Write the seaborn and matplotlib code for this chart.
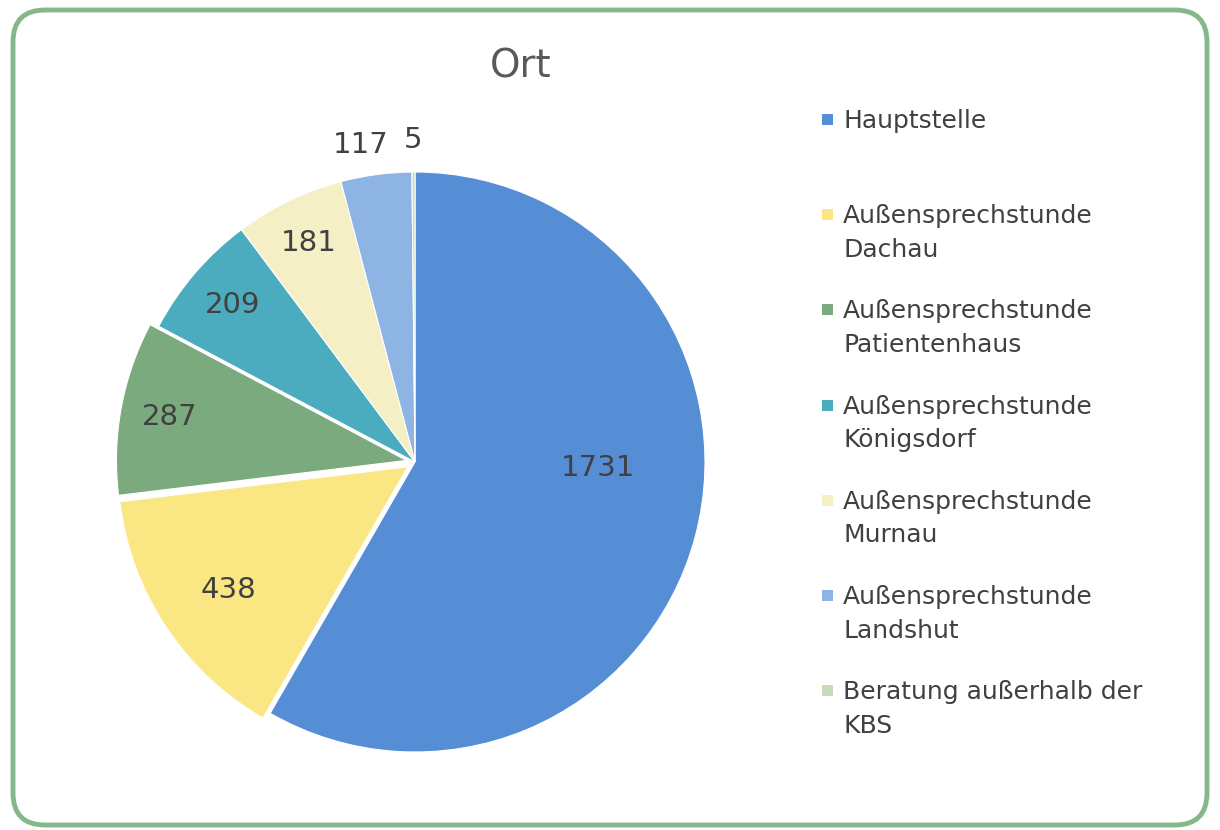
import numpy as np
import matplotlib
matplotlib.use("Agg")
import matplotlib.pyplot as plt
from matplotlib.patches import FancyBboxPatch, Rectangle
import seaborn as sns

sns.set_theme(style="white")
plt.rcParams['font.family'] = ['DejaVu Sans']

title = "Ort"
categories = ["Hauptstelle", "Außensprechstunde\nDachau", "Außensprechstunde\nPatientenhaus",
              "Außensprechstunde\nKönigsdorf", "Außensprechstunde\nMurnau",
              "Außensprechstunde\nLandshut", "Beratung außerhalb der\nKBS"]
values = [1731, 438, 287, 209, 181, 117, 5]
colors = ["#558ED5", "#FAE784", "#7BAA7F", "#4BACC0", "#F5EFC6", "#8EB4E3", "#C4DDB8"]
explode = [0, 0.03, 0.03, 0, 0, 0, 0]
label_dist = [0.63, 0.75, 0.83, 0.83, 0.84, 1.11, 1.11]
label_turn = [13, 1, 0, 0, 0, 2, 0]  # degrees, label placement tweak

W, H = 1220, 830
fig = plt.figure(figsize=(W / 100, H / 100), dpi=100)

# background pixel axes for frame and legend
bg = fig.add_axes([0, 0, 1, 1], zorder=0)
bg.set_xlim(0, W)
bg.set_ylim(H, 0)
bg.axis("off")
frame = FancyBboxPatch((13, 10), W - 26, H - 15, boxstyle="round,pad=0,rounding_size=32",
                       linewidth=3.5, edgecolor="#84B88A", facecolor="white")
bg.add_patch(frame)

# pie
cx, cy, R = 415, 462, 290
side = 2.5 * R
ax = fig.add_axes([(cx - side / 2) / W, (H - cy - side / 2) / H, side / W, side / H], zorder=1)
wedges, _ = ax.pie(values, colors=colors, startangle=90, counterclock=False, explode=explode,
                   wedgeprops=dict(edgecolor="white", linewidth=0.8))
ax.set_xlim(-1.25, 1.25)
ax.set_ylim(-1.25, 1.25)
ax.set_aspect("equal")
ax.axis("off")

for w, v, d, t in zip(wedges, values, label_dist, label_turn):
    ang = np.deg2rad((w.theta1 + w.theta2) / 2 + t)
    x0, y0 = w.center
    ax.text(x0 + d * np.cos(ang), y0 + d * np.sin(ang), str(v), ha="center", va="center",
            fontsize=21, color="#404040")

# title
bg.text(521, 66, title, ha="center", va="center", fontsize=28, color="#595959")

# legend
for i, (lab, col) in enumerate(zip(categories, colors)):
    y = 120 + i * 95.2
    bg.add_patch(Rectangle((822, y - 6), 11, 11, facecolor=col, edgecolor="none"))
    bg.text(843, y - 11, lab, ha="left", va="top", fontsize=18, color="#404040",
            linespacing=1.5)

fig.savefig("out.png", dpi=100)
